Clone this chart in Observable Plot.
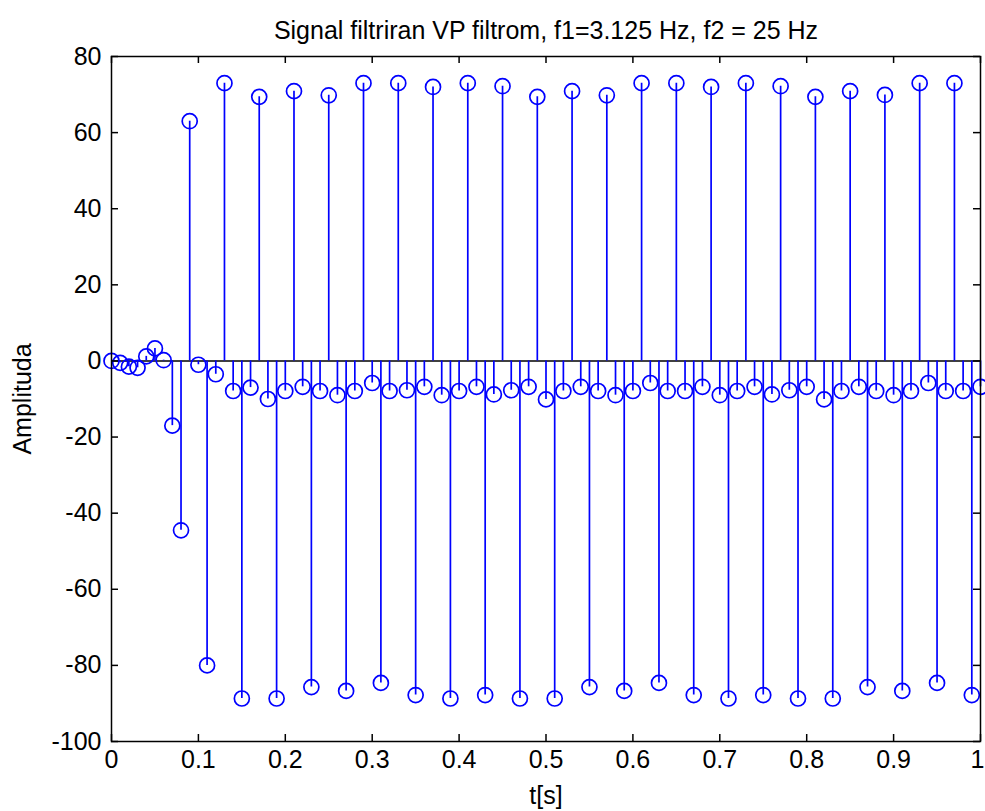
<!DOCTYPE html>
<html>
<head>
<meta charset="utf-8">
<script src="https://cdn.jsdelivr.net/npm/d3@7"></script>
<script src="https://cdn.jsdelivr.net/npm/@observablehq/plot@0.6"></script>
<style>
  html, body { margin: 0; padding: 0; background: #fff; }
  #chart { width: 985px; height: 811px; }
</style>
</head>
<body>
<div id="chart"></div>
<script>
const titleText = "Signal filtriran VP filtrom, f1=3.125 Hz, f2 = 25 Hz";
const xLabel = "t[s]";
const yLabel = "Amplituda";

const xTicks = [0, 0.1, 0.2, 0.3, 0.4, 0.5, 0.6, 0.7, 0.8, 0.9, 1];
const yTicks = [-100, -80, -60, -40, -20, 0, 20, 40, 60, 80];

const times = [
  0.00, 0.01, 0.02, 0.03, 0.04, 0.05, 0.06, 0.07, 0.08, 0.09,
  0.10, 0.11, 0.12, 0.13, 0.14, 0.15, 0.16, 0.17, 0.18, 0.19,
  0.20, 0.21, 0.22, 0.23, 0.24, 0.25, 0.26, 0.27, 0.28, 0.29,
  0.30, 0.31, 0.32, 0.33, 0.34, 0.35, 0.36, 0.37, 0.38, 0.39,
  0.40, 0.41, 0.42, 0.43, 0.44, 0.45, 0.46, 0.47, 0.48, 0.49,
  0.50, 0.51, 0.52, 0.53, 0.54, 0.55, 0.56, 0.57, 0.58, 0.59,
  0.60, 0.61, 0.62, 0.63, 0.64, 0.65, 0.66, 0.67, 0.68, 0.69,
  0.70, 0.71, 0.72, 0.73, 0.74, 0.75, 0.76, 0.77, 0.78, 0.79,
  0.80, 0.81, 0.82, 0.83, 0.84, 0.85, 0.86, 0.87, 0.88, 0.89,
  0.90, 0.91, 0.92, 0.93, 0.94, 0.95, 0.96, 0.97, 0.98, 0.99,
  1.00
];

const amplitude = [
  0, -0.5, -1.5, -1.8, 1.2, 3.3, 0.2, -17, -44.5, 63,
  -1, -80, -3.5, 73, -7.9, -88.7, -7.0, 69.4, -10, -88.7,
  -7.9, 70.9, -6.8, -85.7, -7.9, 69.8, -9, -86.7, -7.9, 73,
  -5.8, -84.6, -7.9, 73, -7.7, -87.8, -6.8, 72, -9, -88.7,
  -7.9, 73, -6.8, -87.8, -8.8, 72.2, -7.7, -88.7, -6.8, 69.4,
  -10.1, -88.7, -7.9, 70.9, -6.8, -85.7, -7.9, 69.8, -9, -86.7,
  -7.9, 73, -5.8, -84.6, -7.9, 73, -7.9, -87.8, -6.8, 72,
  -9, -88.7, -7.9, 73, -6.8, -87.8, -8.8, 72.2, -7.7, -88.7,
  -6.8, 69.4, -10.1, -88.7, -7.9, 70.9, -6.8, -85.7, -7.9, 69.9,
  -9, -86.7, -7.9, 73, -5.8, -84.6, -7.9, 73, -7.9, -87.8,
  -6.8
];

const data = times.map((t, i) => ({t, v: amplitude[i]}));

const W = 985, H = 811;
const mL = 111, mR = 5, mT = 56, mB = 70;
const plotW = W - mL - mR;
const plotH = H - mT - mB;
const tickLen = 7;
const fs = 25;
const fmt = d => String(d);
const blue = "#0000ff";

const innerXLabels = xTicks.slice(0, -1);
const edgeXLabels = xTicks.slice(-1);

const chart = Plot.plot({
  width: W,
  height: H,
  marginLeft: mL,
  marginRight: mR,
  marginTop: mT,
  marginBottom: mB,
  style: {fontFamily: "'Liberation Sans', Arial, sans-serif", fontSize: fs + "px", background: "#fff", color: "#000"},
  x: {domain: [0, 1], ticks: xTicks, tickFormat: fmt, label: null},
  y: {domain: [-100, 80], ticks: yTicks, tickFormat: fmt, label: null},
  marks: [
    Plot.ruleY([0], {stroke: "#000", strokeWidth: 1.5}),
    Plot.ruleX(data, {x: "t", y1: 0, y2: "v", stroke: blue, strokeWidth: 1.7}),
    Plot.dot(data, {x: "t", y: "v", r: 7.5, stroke: blue, strokeWidth: 1.7, fill: "none"}),
    Plot.tickX(xTicks, {x: d => d, insetTop: plotH - tickLen, stroke: "#000", strokeWidth: 1.5}),
    Plot.tickX(xTicks, {x: d => d, insetBottom: plotH - tickLen, stroke: "#000", strokeWidth: 1.5}),
    Plot.tickY(yTicks, {y: d => d, insetRight: plotW - tickLen, stroke: "#000", strokeWidth: 1.5}),
    Plot.tickY(yTicks, {y: d => d, insetLeft: plotW - tickLen, stroke: "#000", strokeWidth: 1.5}),
    Plot.frame({stroke: "#000", strokeWidth: 1.5}),
    Plot.axisX(innerXLabels, {tickFormat: fmt, tickSize: 0, tickPadding: 9, fontSize: fs, label: null}),
    Plot.text(edgeXLabels, {x: d => d, text: fmt, frameAnchor: "bottom", lineAnchor: "top", textAnchor: "end", dx: 4, dy: 9, fontSize: fs, fill: "#000"}),
    Plot.axisY({ticks: yTicks, tickFormat: fmt, tickSize: 0, tickPadding: 10, fontSize: fs, label: null}),
    Plot.text([titleText], {frameAnchor: "top", lineAnchor: "middle", dy: -26, fontSize: fs, fill: "#000"}),
    Plot.text([xLabel], {frameAnchor: "bottom", lineAnchor: "middle", dy: 54, fontSize: fs, fill: "#000"}),
    Plot.text([yLabel], {frameAnchor: "left", lineAnchor: "middle", textAnchor: "middle", dx: -89, rotate: -90, fontSize: fs, fill: "#000"})
  ]
});

document.getElementById("chart").appendChild(chart);
</script>
</body>
</html>
